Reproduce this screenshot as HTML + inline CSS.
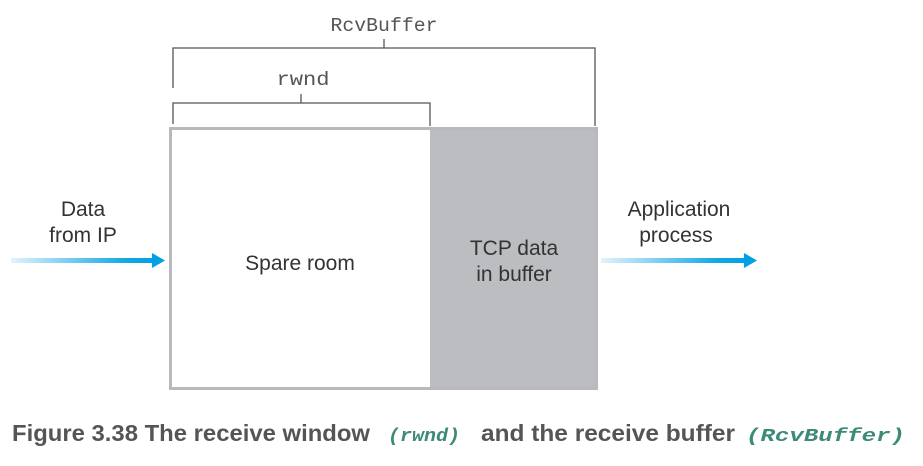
<!DOCTYPE html>
<html><head><meta charset="utf-8"><style>
body{margin:0;background:#fff;width:923px;height:461px;overflow:hidden}
</style></head><body>
<svg width="923" height="461" viewBox="0 0 923 461" xmlns="http://www.w3.org/2000/svg">
<defs>
<linearGradient id="g" x1="0" x2="1" y1="0" y2="0">
<stop offset="0" stop-color="#e3f3fb"/><stop offset="0.8" stop-color="#12a8e6"/><stop offset="1" stop-color="#00a0e3"/>
</linearGradient>
</defs>
<g stroke="#555" stroke-width="1.3" fill="none">
<path d="M173,88 V48 H595 V126"/>
<path d="M384,39 V48"/>
<path d="M173,124 V103 H430 V126"/>
<path d="M301,94 V103"/>
</g>
<text x="384" y="31" font-family="Liberation Mono, monospace" font-size="19" fill="#555" text-anchor="middle" textLength="107" lengthAdjust="spacingAndGlyphs">RcvBuffer</text>
<text x="303" y="85" font-family="Liberation Mono, monospace" font-size="19" fill="#555" text-anchor="middle" textLength="53" lengthAdjust="spacingAndGlyphs">rwnd</text>
<rect x="430" y="127" width="168" height="263" fill="#bcbdc0"/>
<rect x="170.5" y="128.5" width="426" height="260" fill="none" stroke="#b8b9bc" stroke-width="3"/>
<rect x="173" y="131" width="257" height="256" fill="#fff"/>
<text x="300" y="270" font-family="Liberation Sans, sans-serif" font-size="21" fill="#333" text-anchor="middle">Spare room</text>
<text x="514" y="255" font-family="Liberation Sans, sans-serif" font-size="21" fill="#333" text-anchor="middle">TCP data</text>
<text x="514" y="281" font-family="Liberation Sans, sans-serif" font-size="21" fill="#333" text-anchor="middle">in buffer</text>
<text x="83" y="216" font-family="Liberation Sans, sans-serif" font-size="21" fill="#333" text-anchor="middle">Data</text>
<text x="83" y="242" font-family="Liberation Sans, sans-serif" font-size="21" fill="#333" text-anchor="middle">from IP</text>
<text x="679" y="216" font-family="Liberation Sans, sans-serif" font-size="21" fill="#333" text-anchor="middle">Application</text>
<text x="676" y="242" font-family="Liberation Sans, sans-serif" font-size="21" fill="#333" text-anchor="middle">process</text>
<rect x="11" y="258" width="143" height="5" fill="url(#g)"/>
<polygon points="152,253 165,260.5 152,268" fill="#00a0e3"/>
<rect x="601" y="258" width="145" height="5" fill="url(#g)"/>
<polygon points="744,253 757,260.5 744,268" fill="#00a0e3"/>
<text x="12" y="441" font-family="Liberation Sans, sans-serif" font-size="23" font-weight="bold" fill="#555" textLength="358" lengthAdjust="spacingAndGlyphs">Figure 3.38 The receive window</text>
<text x="388" y="441" font-family="Liberation Mono, monospace" font-size="18" font-weight="bold" font-style="italic" fill="#3d8a78" textLength="72" lengthAdjust="spacingAndGlyphs">(rwnd)</text>
<text x="481" y="441" font-family="Liberation Sans, sans-serif" font-size="23" font-weight="bold" fill="#555" textLength="254" lengthAdjust="spacingAndGlyphs">and the receive buffer</text>
<text x="746" y="441" font-family="Liberation Mono, monospace" font-size="18" font-weight="bold" font-style="italic" fill="#3d8a78" textLength="159" lengthAdjust="spacingAndGlyphs">(RcvBuffer)</text>
</svg>
</body></html>
